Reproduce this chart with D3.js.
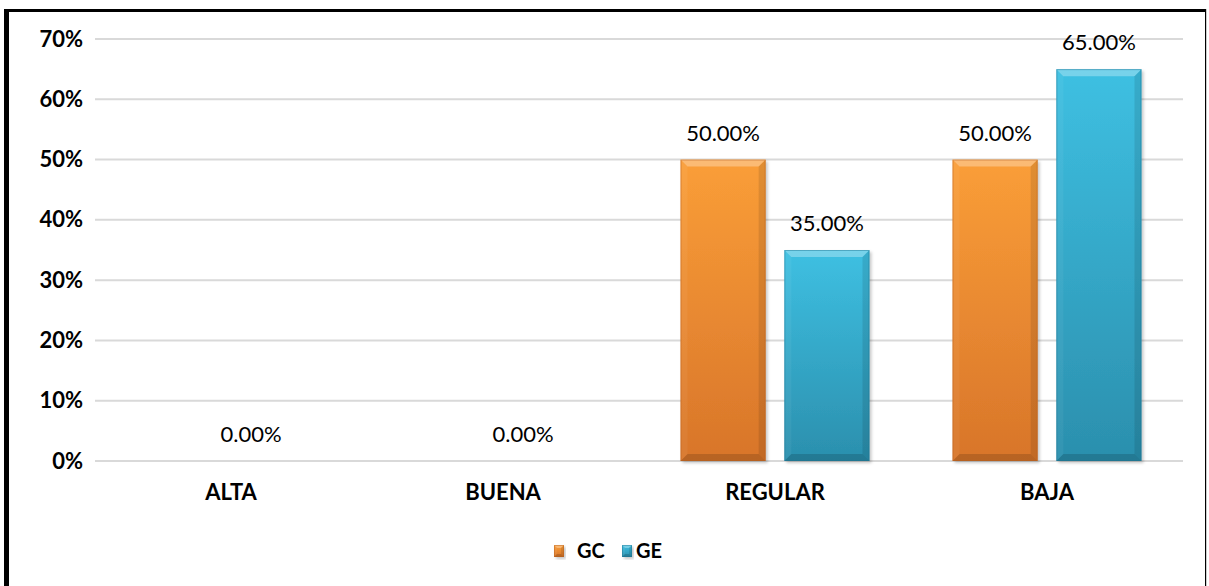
<!DOCTYPE html>
<html>
<head>
<meta charset="utf-8">
<script src="https://cdn.jsdelivr.net/npm/d3@7"></script>
<style>
  html, body { margin: 0; padding: 0; background: #fff; }
  svg { display: block; }
</style>
</head>
<body>
<svg id="chart" width="1209" height="586"></svg>
<script>
// Categories, series and values
const categories = ["ALTA", "BUENA", "REGULAR", "BAJA"];
const seriesNames = ["GC", "GE"];
const gcValues = [0, 0, 0.50, 0.50];
const geValues = [0, 0, 0.35, 0.65];
const yTicks = [0, 0.1, 0.2, 0.3, 0.4, 0.5, 0.6, 0.7];

const palette = {
  GC: { top: "#FA9E38", bottom: "#D8752A", edge: "#B55F1E" },
  GE: { top: "#3EC0E2", bottom: "#2B8FAD", edge: "#1F7390" }
};

const svg = d3.select("#chart");
const W = 1209, H = 586;
const font = "Lato, 'Liberation Sans', Arial, sans-serif";

svg.append("rect").attr("width", W).attr("height", H).attr("fill", "#fff");

const defs = svg.append("defs");
seriesNames.forEach(s => {
  const g = defs.append("linearGradient").attr("id", "grad-" + s)
    .attr("x1", 0).attr("y1", 0).attr("x2", 0).attr("y2", 1);
  g.append("stop").attr("offset", "0%").attr("stop-color", palette[s].top);
  g.append("stop").attr("offset", "100%").attr("stop-color", palette[s].bottom);
});
const shadow = defs.append("filter").attr("id", "shadow")
  .attr("x", "-10%").attr("y", "-10%").attr("width", "130%").attr("height", "130%");
shadow.append("feDropShadow").attr("dx", 2).attr("dy", 2).attr("stdDeviation", 1.5)
  .attr("flood-color", "#000").attr("flood-opacity", 0.22);

// Scales
const x = d3.scaleBand().domain(categories).range([95, 1183]).padding(0);
const x1 = d3.scaleBand().domain(seriesNames).range([0, x.bandwidth()])
  .paddingInner(0.18).paddingOuter(0.4);
const y = d3.scaleLinear().domain([0, 0.7]).range([461, 39]);

// Gridlines
svg.append("g").selectAll("line").data(yTicks).join("line")
  .attr("x1", 95).attr("x2", 1183)
  .attr("y1", d => y(d)).attr("y2", d => y(d))
  .attr("stroke", "#d9d9d9").attr("stroke-width", 2);

// Y axis labels
const yAxis = d3.axisLeft(y).tickValues(yTicks).tickFormat(d3.format(".0%")).tickSize(0).tickPadding(0);
const yg = svg.append("g").attr("transform", "translate(83,0)").call(yAxis);
yg.select(".domain").remove();
yg.selectAll("text").attr("font-family", font).attr("font-weight", "bold")
  .attr("font-size", 22).attr("fill", "#000");

// X axis labels
const xAxis = d3.axisBottom(x).tickSize(0).tickPadding(0);
const xg = svg.append("g").attr("transform", "translate(0,484)").call(xAxis);
xg.select(".domain").remove();
xg.selectAll("text").attr("font-family", font).attr("font-weight", "bold")
  .attr("font-size", 22).attr("fill", "#000").attr("dy", "0.71em");

// Bars with bevelled edges
const rows = categories.map((c, i) => ({ cat: c, vals: { GC: gcValues[i], GE: geValues[i] } }));
const barData = [];
rows.forEach(r => seriesNames.forEach(s => barData.push({ cat: r.cat, s, v: r.vals[s] })));

function bevel(g, bx, by, bw, bh, s, bMax) {
  const b = Math.min(bMax, bw / 3, bh / 3);
  g.append("rect").attr("x", bx).attr("y", by).attr("width", bw).attr("height", bh)
    .attr("fill", `url(#grad-${s})`).attr("filter", "url(#shadow)");
  const faces = [
    { pts: [[bx, by], [bx + bw, by], [bx + bw - b, by + b], [bx + b, by + b]], fill: "#fff", op: 0.3 },
    { pts: [[bx, by], [bx + b, by + b], [bx + b, by + bh - b], [bx, by + bh]], fill: "#fff", op: 0.05 },
    { pts: [[bx + bw, by], [bx + bw, by + bh], [bx + bw - b, by + bh - b], [bx + bw - b, by + b]], fill: "#000", op: 0.1 },
    { pts: [[bx, by + bh], [bx + b, by + bh - b], [bx + bw - b, by + bh - b], [bx + bw, by + bh]], fill: "#000", op: 0.15 }
  ];
  faces.forEach(f => g.append("polygon").attr("points", f.pts.map(p => p.join(",")).join(" "))
    .attr("fill", f.fill).attr("fill-opacity", f.op));
  g.append("rect").attr("x", bx + 0.5).attr("y", by + 0.5).attr("width", bw - 1).attr("height", bh - 1)
    .attr("fill", "none").attr("stroke", palette[s].edge).attr("stroke-opacity", 0.45);
}

const barsG = svg.append("g");
barData.filter(d => d.v > 0).forEach(d => {
  const bx = x(d.cat) + x1(d.s);
  bevel(barsG, bx, y(d.v), x1.bandwidth(), y(0) - y(d.v), d.s, 7);
});

// Value labels
const fmt = d3.format(".2%");
const labels = [];
rows.forEach(r => {
  if (r.vals.GC === 0 && r.vals.GE === 0) {
    labels.push({ x: x(r.cat) + x.bandwidth() / 2 + 20, v: 0 });
  } else {
    seriesNames.forEach(s => labels.push({ x: x(r.cat) + x1(s) + x1.bandwidth() / 2, v: r.vals[s] }));
  }
});
svg.append("g").selectAll("text").data(labels).join("text")
  .attr("x", d => d.x).attr("y", d => y(d.v) - 19)
  .attr("text-anchor", "middle").attr("font-family", font)
  .attr("font-size", 22).attr("fill", "#000")
  .text(d => fmt(d.v));

// Legend
const legend = svg.append("g");
const legendItems = [{ s: "GC", mx: 554, tx: 577 }, { s: "GE", mx: 622, tx: 636 }];
legendItems.forEach(it => {
  bevel(legend, it.mx, 545, 10, 12, it.s, 3);
  legend.append("text").attr("x", it.tx).attr("y", 558)
    .attr("font-family", font).attr("font-weight", "bold").attr("font-size", 20)
    .attr("fill", "#000").text(it.s);
});

// Frame
svg.append("rect").attr("x", 4).attr("y", 9).attr("width", 1202).attr("height", 3).attr("fill", "#000");
svg.append("rect").attr("x", 4).attr("y", 9).attr("width", 5).attr("height", H - 9).attr("fill", "#000");
svg.append("rect").attr("x", 1205).attr("y", 9).attr("width", 1.2).attr("height", H - 9).attr("fill", "#000");
</script>
</body>
</html>
